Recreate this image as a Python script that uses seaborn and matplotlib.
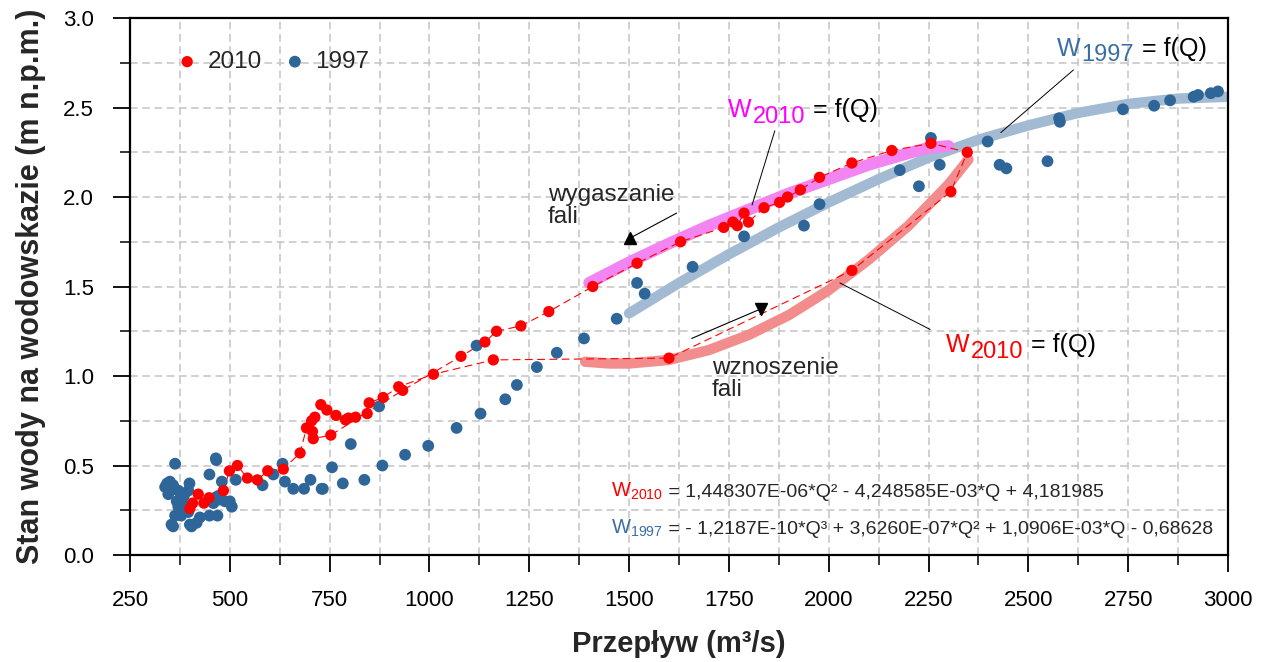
import numpy as np
import pandas as pd
import matplotlib
matplotlib.use("Agg")
import matplotlib.pyplot as plt
import seaborn as sns

# ---------------- data ----------------
# 2010 flood wave, observations in time order (rising limb, then falling limb)
q2010 = [400, 407, 421, 435, 448, 484, 499, 519, 544, 569, 595, 634, 676, 692,
         705, 713, 728, 743, 766, 790, 797, 815, 844, 849, 884, 923, 1010, 1160,
         1600, 2058, 2306, 2347,
         2256, 2158, 2058, 1977, 1929, 1897, 1877, 1838, 1799, 1788, 1771, 1760,
         1737, 1629, 1520, 1409, 1299, 1229, 1168, 1139, 1079, 933, 753, 709, 707]
w2010 = [0.26, 0.29, 0.34, 0.29, 0.32, 0.36, 0.47, 0.50, 0.43, 0.42, 0.47, 0.48, 0.57, 0.71,
         0.75, 0.77, 0.84, 0.81, 0.78, 0.755, 0.765, 0.77, 0.79, 0.85, 0.88, 0.94, 1.01, 1.09,
         1.10, 1.59, 2.03, 2.25,
         2.30, 2.26, 2.19, 2.11, 2.04, 2.00, 1.97, 1.94, 1.86, 1.91, 1.84, 1.86,
         1.83, 1.75, 1.63, 1.50, 1.36, 1.28, 1.25, 1.19, 1.11, 0.92, 0.67, 0.65, 0.69]

# 1997 observations
q1997 = [343, 338, 350, 346, 358, 371, 399, 396, 367, 375, 384, 371, 388, 396, 363, 354,
         358, 400, 404, 425, 449, 469, 417, 455, 463, 475, 488, 505, 500, 471, 459, 385,
         392, 378, 363, 465, 466, 449, 480, 515, 582, 609, 632, 638, 659, 686, 702, 730,
         733, 756, 783, 803, 837, 874, 882, 939, 997, 1068, 1128, 1118, 1190, 1219, 1269,
         1319, 1387, 1469, 1520, 1539, 1659, 1788, 1938, 1977, 2178, 2226, 2256, 2278,
         2398, 2428, 2445, 2548, 2577, 2579, 2737, 2815, 2855, 2914, 2925, 2957, 2975]
w1997 = [0.40, 0.38, 0.41, 0.34, 0.39, 0.36, 0.40, 0.36, 0.30, 0.31, 0.28, 0.27, 0.25, 0.24,
         0.22, 0.17, 0.16, 0.17, 0.16, 0.21, 0.22, 0.22, 0.18, 0.30, 0.32, 0.31, 0.30, 0.27,
         0.30, 0.33, 0.29, 0.33, 0.27, 0.22, 0.51, 0.54, 0.53, 0.45, 0.41, 0.42, 0.39, 0.45,
         0.51, 0.41, 0.37, 0.37, 0.42, 0.37, 0.37, 0.49, 0.40, 0.62, 0.42, 0.83, 0.50, 0.56,
         0.61, 0.71, 0.79, 1.17, 0.87, 0.95, 1.05, 1.13, 1.21, 1.32, 1.52, 1.46, 1.61, 1.78,
         1.84, 1.96, 2.15, 2.06, 2.33, 2.18, 2.31, 2.18, 2.16, 2.20, 2.44, 2.42, 2.49, 2.51,
         2.54, 2.56, 2.57, 2.58, 2.59]

# rating curves
fit1997_q = [1500, 1625, 1750, 1875, 2000, 2125, 2250, 2375, 2500, 2625, 2750, 2875, 3000]
fit1997_w = [1.35, 1.52, 1.68, 1.83, 1.97, 2.10, 2.22, 2.32, 2.40, 2.47, 2.52, 2.55, 2.56]
rise2010_q = [1390, 1450, 1500, 1600, 1700, 1800, 1900, 2000, 2100, 2200, 2300, 2350]
rise2010_w = [1.08, 1.07, 1.07, 1.09, 1.145, 1.23, 1.34, 1.48, 1.65, 1.84, 2.07, 2.21]
fall2010_q = [1400, 1500, 1600, 1700, 1800, 1900, 2000, 2100, 2200, 2250, 2300]
fall2010_w = [1.52, 1.635, 1.74, 1.84, 1.93, 2.02, 2.10, 2.18, 2.245, 2.275, 2.285]

x_ticks = [250, 500, 750, 1000, 1250, 1500, 1750, 2000, 2250, 2500, 2750, 3000]
y_ticks = [0.0, 0.5, 1.0, 1.5, 2.0, 2.5, 3.0]

eq2010 = "= 1,448307E-06*Q² - 4,248585E-03*Q + 4,181985"
eq1997 = "= - 1,2187E-10*Q³ + 3,6260E-07*Q² + 1,0906E-03*Q - 0,68628"

# ---------------- styling ----------------
sns.set_theme(style="white")
plt.rcParams["font.family"] = ["Liberation Sans", "DejaVu Sans"]
plt.rcParams["axes.unicode_minus"] = False

RED = "#FF0000"
BLUE = "#2F6699"
C_BLUE_FIT = "#A3BAD3"
C_PINK_FIT = "#F285F2"
C_RED_FIT = "#F38D8D"
C_BLUE_TXT = "#3A6EA5"
C_PINK_TXT = "#FF00FF"

df10 = pd.DataFrame({"Q": q2010, "W": w2010})
df97 = pd.DataFrame({"Q": q1997, "W": w1997})
dfb = pd.DataFrame({"Q": fit1997_q, "W": fit1997_w})
dfr = pd.DataFrame({"Q": rise2010_q, "W": rise2010_w})
dfp = pd.DataFrame({"Q": fall2010_q, "W": fall2010_w})

fig = plt.figure(figsize=(12.67, 6.62), dpi=100)
ax = fig.add_axes([0.1026, 0.1616, 0.8666, 0.8112])

# thick fitted curves
for d, c, lw in [(dfb, C_BLUE_FIT, 7.5), (dfr, C_RED_FIT, 7.5), (dfp, C_PINK_FIT, 8.5)]:
    sns.lineplot(data=d, x="Q", y="W", sort=False, estimator=None, color=c, lw=lw,
                 solid_capstyle="round", ax=ax, zorder=2)

# dashed line connecting 2010 observations in time order
sns.lineplot(data=df10, x="Q", y="W", sort=False, estimator=None, color=RED, lw=0.8,
             linestyle=(0, (7, 4)), ax=ax, zorder=3)

# points
sns.scatterplot(data=df97, x="Q", y="W", color=BLUE, s=72, edgecolor="none", ax=ax,
                zorder=4, label="1997")
sns.scatterplot(data=df10, x="Q", y="W", color=RED, s=66, edgecolor="none", ax=ax,
                zorder=5, label="2010")

# axes
ax.set_xlim(250, 3000)
ax.set_ylim(0, 3.0)
ax.set_xticks(x_ticks)
ax.set_xticks(np.arange(250, 3001, 125), minor=True)
ax.set_yticks(y_ticks)
ax.set_yticks(np.arange(0, 3.01, 0.25), minor=True)
ax.set_xticklabels([str(v) for v in x_ticks])
ax.set_yticklabels([f"{v:.1f}" for v in y_ticks])
ax.grid(which="both", linestyle=(0, (5, 3)), color="#C4C4C4", lw=1.1)
ax.set_axisbelow(True)
for s in ax.spines.values():
    s.set_color("black")
    s.set_linewidth(1.6)
ax.tick_params(which="major", direction="out", length=12, width=1.3, labelsize=16,
               colors="black", left=True, bottom=True)
ax.tick_params(axis="x", which="major", pad=13)
ax.tick_params(axis="y", which="major", pad=14)
ax.tick_params(which="minor", direction="out", length=7, width=1.3, left=True, bottom=True)
ax.set_xlabel("Przepływ (m³/s)", fontsize=21, fontweight="bold", labelpad=14)
ax.set_ylabel("Stan wody na wodowskazie (m n.p.m.)", fontsize=22, fontweight="bold",
              labelpad=12)

# legend
h, l = ax.get_legend_handles_labels()
order = [l.index("2010"), l.index("1997")]
ax.legend([h[i] for i in order], [l[i] for i in order], ncol=2, frameon=False,
          loc="center left", bbox_to_anchor=(0.041, 0.918), fontsize=17.5,
          handlelength=1.0, handletextpad=0.35, columnspacing=0.85, borderaxespad=0,
          borderpad=0)

# annotations: arrows with triangle heads
ax.plot([1619, 1502], [1.91, 1.77], color="black", lw=0.8, zorder=6)
ax.plot([1502], [1.77], marker="^", color="black", ms=9, zorder=6)
ax.text(1297, 2.075, "wygaszanie\nfali", fontsize=17.5, va="top", ha="left",
        linespacing=1.0, zorder=6)

ax.plot([1657, 1830], [1.21, 1.375], color="black", lw=0.8, zorder=6)
ax.plot([1830], [1.375], marker="v", color="black", ms=9, zorder=6)
ax.text(1708, 1.105, "wznoszenie\nfali", fontsize=17.5, va="top", ha="left",
        linespacing=1.0, zorder=6)


# curve labels "W" + lowered subscript + " = f(Q)"
def curve_label(x, y, name, color, size=18):
    t = ax.text(x, y, "W", color=color, fontsize=size, va="baseline", ha="left",
                zorder=6)
    s = ax.annotate(name, xy=(1.0, y), xycoords=(t, "data"), xytext=(0.5, -4),
                    textcoords="offset points", fontsize=size - 1, color=color,
                    va="baseline", ha="left", zorder=6)
    ax.annotate(" = f(Q)", xy=(1.0, y), xycoords=(s, "data"), xytext=(1, 0),
                textcoords="offset points", fontsize=size, color="black",
                va="baseline", ha="left", zorder=6)


curve_label(1748, 2.447, "2010", C_PINK_TXT)
ax.plot([1865, 1808], [2.37, 1.955], color="black", lw=0.7, zorder=6)

curve_label(2572, 2.79, "1997", C_BLUE_TXT)
ax.plot([2613, 2431], [2.71, 2.36], color="black", lw=0.7, zorder=6)

curve_label(2294, 1.134, "2010", RED)
ax.plot([2254, 2028], [1.26, 1.52], color="black", lw=0.7, zorder=6)

# equations
t1 = ax.text(1455, 0.324, r"$\mathregular{W_{2010}}$", color=RED, fontsize=14.5,
             va="baseline", ha="left", zorder=6)
ax.annotate(" " + eq2010, xy=(1.0, 0.324), xycoords=(t1, "data"), fontsize=14,
            va="baseline", ha="left", zorder=6)
t2 = ax.text(1455, 0.117, r"$\mathregular{W_{1997}}$", color=C_BLUE_TXT, fontsize=14.5,
             va="baseline", ha="left", zorder=6)
ax.annotate(" " + eq1997, xy=(1.0, 0.117), xycoords=(t2, "data"), fontsize=14,
            va="baseline", ha="left", zorder=6)

fig.savefig("out.png", dpi=100, facecolor="white")
